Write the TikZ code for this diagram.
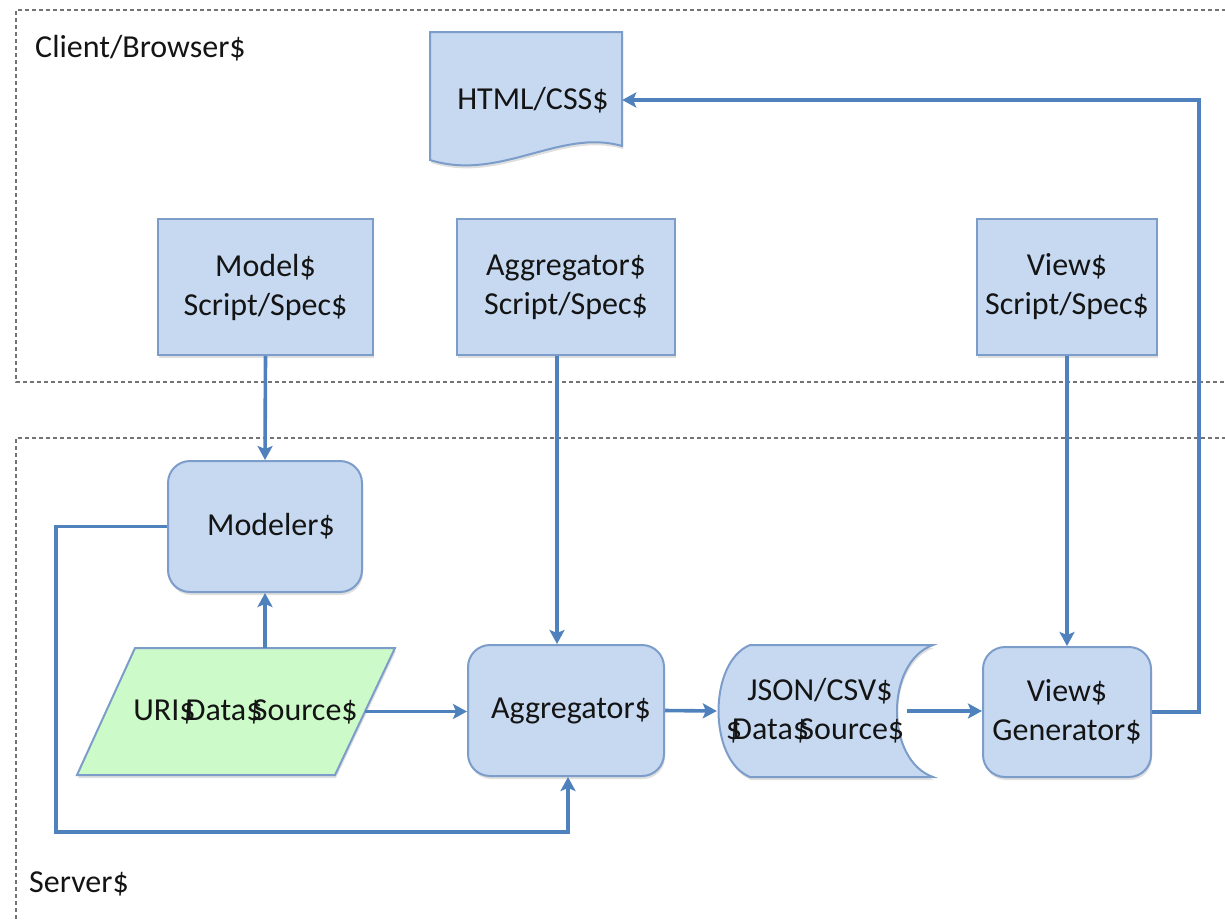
\documentclass[tikz,border=0pt]{standalone}
\usepackage{fontspec}
\setmainfont{Carlito}
\usetikzlibrary{arrows.meta,shadows}

\definecolor{boxfill}{RGB}{198,217,241}
\definecolor{boxline}{RGB}{124,157,202}
\definecolor{srcfill}{RGB}{204,250,200}
\definecolor{linkc}{RGB}{79,129,189}
\definecolor{zonec}{RGB}{115,115,115}
\definecolor{txt}{RGB}{20,20,20}

% a dollar sign that runs into the next letter
\newcommand{\dlr}{\$\kern-0.3em}

\tikzset{
  lbl/.style={font=\fontsize{32}{39}\selectfont, text=txt, align=center, inner sep=0pt},
  soft/.style={drop shadow={shadow xshift=1pt, shadow yshift=-3pt, opacity=0.25}},
  box/.style={lbl, draw=boxline, fill=boxfill, line width=2pt, soft},
  rbox/.style={box, rounded corners=22pt},
  shapeline/.style={draw=boxline, line width=2pt, soft},
  ghost/.style={lbl},
  link/.style={draw=linkc, line width=3.6pt, -{Stealth[length=14pt, width=15pt, inset=3pt]}},
  zone/.style={draw=zonec, line width=1.8pt, dash pattern=on 4pt off 3pt}
}

\begin{document}
\begin{tikzpicture}[x=1pt, y=-1pt]
\useasboundingbox (0,0) rectangle (1225,921);

% dotted zone frames
\draw[zone] (1240,10) -- (16,10) -- (16,382) -- (1240,382);
\draw[zone] (1240,438) -- (16,438) -- (16,940);
\node[lbl, anchor=west] (client) at (35,48) {Client/Browser\$};
\node[lbl, anchor=west] (server) at (29,884) {Server\$};

% HTML/CSS document shape
\path[shapeline, fill=boxfill] (430,32) -- (622,32) -- (622,146)
  .. controls (560,128) and (500,182) .. (430,160) -- cycle;
\node[ghost, minimum width=192pt, minimum height=120pt] (html) at (526,100) {\hspace*{14pt}HTML/CSS\$};

% client-side scripts
\node[box, minimum width=215pt, minimum height=136pt] (mspec) at (265.5,287) {Model\$\\Script/Spec\$};
\node[box, minimum width=218pt, minimum height=136pt] (aspec) at (566,287) {Aggregator\$\\Script/Spec\$};
\node[box, minimum width=180pt, minimum height=136pt] (vspec) at (1067,287) {View\$\\Script/Spec\$};

% server-side processes
\node[rbox, minimum width=194pt, minimum height=131pt] (modeler) at (265,526.5) {\hspace*{12pt}Modeler\$};
\node[rbox, minimum width=196pt, minimum height=131pt] (agg) at (566,710.5) {\hspace*{10pt}Aggregator\$};
\node[rbox, minimum width=168pt, minimum height=130pt] (vgen) at (1067,712) {View\$\\Generator\$};

% URI data source (parallelogram)
\path[shapeline, fill=srcfill] (135,648) -- (395,648) -- (335,775) -- (77,775) -- cycle;
\node[ghost, minimum width=259pt, minimum height=127pt] (uri) at (235.5,711.5) {\hspace*{20pt}URI\dlr Data\dlr Source\$};

% JSON/CSV stored data
\path[shapeline, fill=boxfill] (750,645) -- (933,645)
  .. controls (885,662) and (885,760) .. (933,777) -- (750,777)
  .. controls (708,760) and (708,662) .. (750,645) -- cycle;
\node[ghost, minimum width=190pt, minimum height=132pt] (json) at (812,711) {\hspace*{16pt}JSON/CSV\$\\\hspace*{6pt}\dlr Data\dlr Source\$};

% connectors
\draw[link] (mspec.south) -- (modeler.north);
\draw[link] ([xshift=-9pt]aspec.south) -- ([xshift=-9pt]agg.north);
\draw[link] (vspec.south) -- (vgen.north);
\draw[link] (uri.north -| modeler.south) -- (modeler.south);
\draw[link] (uri.east) -- (uri.east -| agg.west);
\draw[link] (agg.east) -- (json.west);
\draw[link] (json.east) -- (json.east -| vgen.west);
\draw[link] (vgen.east) -- ++(47,0) |- (html.east);
\draw[link] (modeler.west) -- (56,526.5) -- (56,832) -| ([xshift=2pt]agg.south);
\end{tikzpicture}
\end{document}
